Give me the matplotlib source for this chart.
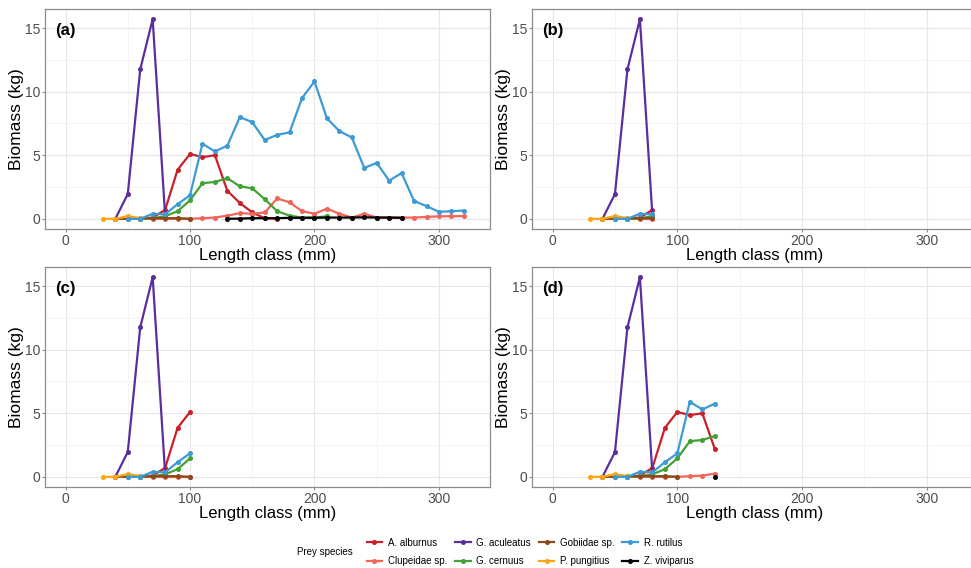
import numpy as np
import matplotlib
matplotlib.use('Agg')
import matplotlib.pyplot as plt
from matplotlib.ticker import MultipleLocator

plt.rcParams['font.family'] = ['Liberation Sans', 'DejaVu Sans']

# length classes (mm) and biomass (kg) per prey species
alburnus_len = [60, 70, 80, 90, 100, 110, 120, 130, 140, 150, 160, 170]
alburnus_kg = [0.0, 0.1, 0.7, 3.85, 5.1, 4.85, 5.0, 2.2, 1.25, 0.5, 0.05, 0.0]

clupeidae_len = [60, 70, 80, 90, 100, 110, 120, 130, 140, 150, 160, 170, 180, 190, 200,
                 210, 220, 230, 240, 250, 260, 270, 280, 290, 300, 310, 320]
clupeidae_kg = [0.0, 0.0, 0.0, 0.0, 0.0, 0.05, 0.1, 0.25, 0.45, 0.4, 0.5, 1.6, 1.3, 0.6, 0.4,
                0.8, 0.4, 0.1, 0.4, 0.1, 0.1, 0.1, 0.1, 0.15, 0.2, 0.2, 0.22]

aculeatus_len = [40, 50, 60, 70, 80]
aculeatus_kg = [0.0, 1.95, 11.75, 15.7, 0.27]

cernuus_len = [60, 70, 80, 90, 100, 110, 120, 130, 140, 150, 160, 170, 180, 190, 200, 210]
cernuus_kg = [0.0, 0.05, 0.2, 0.6, 1.45, 2.8, 2.9, 3.2, 2.55, 2.4, 1.55, 0.6, 0.25, 0.1, 0.1, 0.2]

gobiidae_len = [40, 50, 60, 70, 80, 90, 100]
gobiidae_kg = [0.0, 0.0, 0.05, 0.05, 0.05, 0.05, 0.0]

pungitius_len = [30, 40, 50, 60]
pungitius_kg = [0.0, 0.0, 0.22, 0.05]

rutilus_len = [50, 60, 70, 80, 90, 100, 110, 120, 130, 140, 150, 160, 170, 180, 190, 200,
               210, 220, 230, 240, 250, 260, 270, 280, 290, 300, 310, 320]
rutilus_kg = [0.0, 0.0, 0.4, 0.35, 1.15, 1.85, 5.9, 5.3, 5.75, 8.0, 7.6, 6.2, 6.6, 6.8, 9.5, 10.8,
              7.9, 6.9, 6.4, 4.0, 4.4, 3.0, 3.6, 1.4, 1.0, 0.55, 0.6, 0.65]

viviparus_len = [130, 140, 150, 160, 170, 180, 190, 200, 210, 220, 230, 240, 250, 260, 270]
viviparus_kg = [0.0, 0.02, 0.05, 0.05, 0.05, 0.08, 0.08, 0.08, 0.1, 0.1, 0.1, 0.12, 0.1, 0.1, 0.08]

species = ['A. alburnus', 'Clupeidae sp.', 'G. aculeatus', 'G. cernuus',
           'Gobiidae sp.', 'P. pungitius', 'R. rutilus', 'Z. viviparus']
lengths = [alburnus_len, clupeidae_len, aculeatus_len, cernuus_len,
           gobiidae_len, pungitius_len, rutilus_len, viviparus_len]
biomass = [alburnus_kg, clupeidae_kg, aculeatus_kg, cernuus_kg,
           gobiidae_kg, pungitius_kg, rutilus_kg, viviparus_kg]
colors = ['#C9202A', '#F0665A', '#5A2E9E', '#44A037',
          '#8B4A1C', '#FFA514', '#3D9AD5', '#000000']

# panel label and maximum length class shown
panels = ['(a)', '(b)', '(c)', '(d)']
max_len = [320, 80, 100, 130]

W, H = 971, 568
fig = plt.figure(figsize=(W / 100, H / 100), dpi=100)

boxes = [(45, 9, 445, 220), (532, 9, 446, 220), (45, 267, 445, 220), (532, 267, 446, 220)]

for i, (x0, y0, w, h) in enumerate(boxes):
    ax = fig.add_axes([x0 / W, 1 - (y0 + h) / H, w / W, h / H])
    for sp, xs, ys, c in zip(species, lengths, biomass, colors):
        xs = np.array(xs)
        ys = np.array(ys)
        keep = xs <= max_len[i]
        if keep.sum() == 0:
            continue
        ax.plot(xs[keep], ys[keep], color=c, lw=1.6, marker='o', ms=2.6, label=sp)
    ax.set_xlim(-16.5, 341)
    ax.set_ylim(-0.8, 16.5)
    ax.xaxis.set_major_locator(MultipleLocator(100))
    ax.xaxis.set_minor_locator(MultipleLocator(50))
    ax.yaxis.set_major_locator(MultipleLocator(5))
    ax.yaxis.set_minor_locator(MultipleLocator(2.5))
    ax.grid(which='major', color='#E6E6E6', lw=0.8)
    ax.grid(which='minor', color='#F3F3F3', lw=0.6)
    ax.set_axisbelow(True)
    for s in ax.spines.values():
        s.set_color('#8C8C8C')
        s.set_linewidth(0.9)
    ax.tick_params(which='major', labelsize=10, colors='#8C8C8C', labelcolor='#4D4D4D',
                   length=2.5, width=0.8, pad=1)
    ax.tick_params(which='minor', length=0)
    ax.set_xlabel('Length class (mm)', fontsize=12, labelpad=0)
    ax.set_ylabel('Biomass (kg)', fontsize=12.5, labelpad=0.5)
    ax.text(0.022, 0.9, panels[i], transform=ax.transAxes, fontsize=12,
            fontweight='bold', va='center', ha='left')

handles = []
for c in colors:
    h, = plt.plot([], [], color=c, lw=1.6, marker='o', ms=2.6)
    handles.append(h)
fig.legend(handles, species, loc='center', bbox_to_anchor=(530 / W, 1 - 552 / H), ncol=4,
           frameon=False, fontsize=7, handlelength=1.6, handletextpad=0.6,
           columnspacing=0.8, labelspacing=0.85, borderpad=0)
fig.text(297 / W, 1 - 552 / H, 'Prey species', fontsize=7, va='center', ha='left')

fig.savefig('out.png', dpi=100)
